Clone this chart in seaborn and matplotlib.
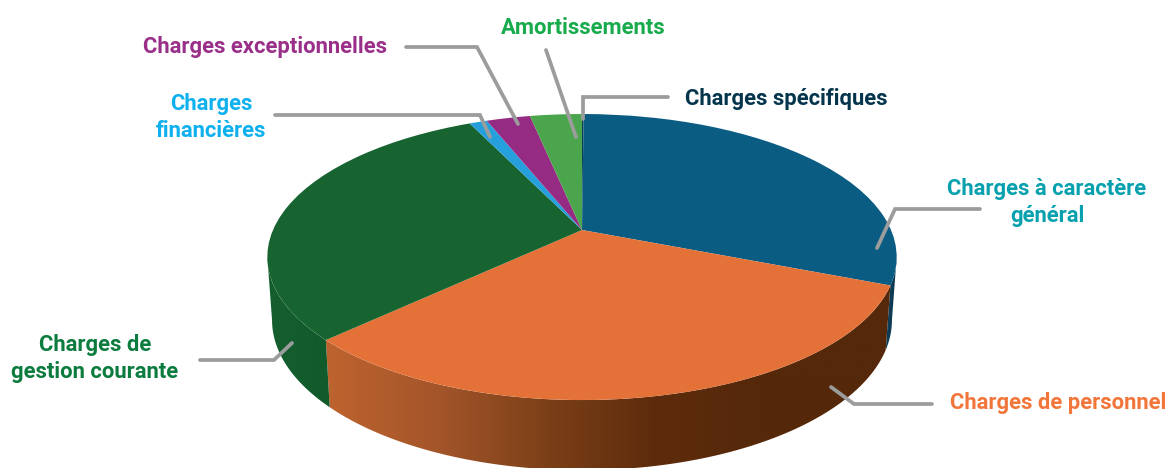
import numpy as np
import matplotlib
matplotlib.use("Agg")
import matplotlib.pyplot as plt
import seaborn as sns
from matplotlib.transforms import Transform
from matplotlib.patches import Polygon
from matplotlib.colors import LinearSegmentedColormap

# ---- data (clockwise from the top) ----
categories = ["Charges spécifiques", "Charges à caractère général", "Charges de personnel",
              "Charges de gestion courante", "Charges financières",
              "Charges exceptionnelles", "Amortissements"]
values = [0.1, 31.0, 31.7, 30.2, 1.1, 2.7, 3.2]
slice_colors = ["#0a3c55", "#0b5c82", "#e47238", "#186430", "#25a0dc", "#962b84", "#4ba54c"]
wall_stops = [["#0a3c55", "#0a3c55"], ["#0f3f58", "#0c3850"],
              ["#bd632f", "#a4552a", "#7c4018", "#5e2c0c", "#55280a"],
              ["#155e2e", "#115a2c"], ["#145c7e", "#145c7e"], ["#6a1f5e", "#6a1f5e"], ["#357a37", "#357a37"]]
labels = [
    ("Charges exceptionnelles", 265, 47.5, "#9a2f8a"),
    ("Amortissements", 583, 28.5, "#17ab4c"),
    ("Charges\nfinancières", 211, 117.5, "#0fb0ee"),
    ("Charges spécifiques", 786, 99.5, "#04354d"),
    ("Charges à caractère\ngénéral", 1047, 202.5, "#06a0ae"),
    ("Charges de personnel", 1058, 403.5, "#f2763a"),
    ("Charges de\ngestion courante", 95, 358.5, "#0b7c3e"),
]
leaders = [
    ([406, 477, 518], [47, 47, 124]),
    ([546, 576], [50, 137]),
    ([668, 583, 583], [97, 97, 119]),
    ([275, 480, 490], [115, 115, 137]),
    ([200, 274, 292], [360, 360, 343]),
    ([980, 895, 877], [209, 209, 248]),
    ([932, 854, 831], [404, 404, 387]),
]

# ---- projection of the unit pie onto the page ----
CX, APEX_Y = 582.0, 230.0
A, B, K = 137.9, 309.0, 0.189
ELL_Y = 257.0


def project(x, y):
    w = 1 + K * y
    return CX + B * x / w, APEX_Y - A * y / w


class Perspective(Transform):
    input_dims = output_dims = 2
    is_separable = False

    def transform_non_affine(self, v):
        v = np.asarray(v, dtype=float)
        px, py = project(v[:, 0], v[:, 1])
        return np.column_stack([px, py])


sns.set_theme(style="white")
plt.rcParams["font.family"] = ["Roboto", "DejaVu Sans"]
fig = plt.figure(figsize=(11.69, 4.68), dpi=100)
ax = fig.add_axes([0, 0, 1, 1])

palette = sns.color_palette(slice_colors)
wedges, _ = ax.pie(values, colors=palette, startangle=90, counterclock=False,
                   radius=1.0, wedgeprops=dict(linewidth=0, antialiased=True))
per = Perspective() + ax.transData
for w in wedges:
    w.set_transform(per)
    w.set_zorder(5)
ax.set_aspect("auto")
ax.set_xlim(0, 1169)
ax.set_ylim(468, 0)
ax.axis("off")

# ---- side wall, built from the same values; only the front-facing arc is drawn ----
edges = 90 - np.cumsum([0] + values) * 3.6
FRONT_HI = -np.degrees(np.arcsin(K))
FRONT_LO = -180 - FRONT_HI
GRAD_LO, GRAD_HI = 330.0, 760.0
for i, stops in enumerate(wall_stops):
    a_hi, a_lo = edges[i], edges[i + 1]
    a_hi = min(a_hi, FRONT_HI)
    a_lo = max(a_lo, FRONT_LO)
    if a_hi <= a_lo:
        continue
    t = np.radians(np.linspace(a_hi, a_lo, 200))
    tx, ty = project(np.cos(t), np.sin(t))
    bx = CX + (tx - CX) * 0.985
    by = 320 + (ty - ELL_Y) * 1.05
    poly = np.column_stack([np.r_[tx, bx[::-1]], np.r_[ty, by[::-1]]])
    patch = Polygon(poly, closed=True, facecolor="none", edgecolor="none", transform=ax.transData)
    ax.add_patch(patch)
    lo, hi = poly[:, 0].min(), poly[:, 0].max()
    cmap = LinearSegmentedColormap.from_list("w%d" % i, stops)
    xs = np.linspace(lo, hi, 512)
    if i == 2:
        grad = np.clip((xs - GRAD_LO) / (GRAD_HI - GRAD_LO), 0, 1)
    else:
        grad = (xs - lo) / (hi - lo)
    im = ax.imshow(grad.reshape(1, -1), cmap=cmap, vmin=0, vmax=1, aspect="auto", zorder=3,
                   extent=(lo, hi, poly[:, 1].max() + 1, poly[:, 1].min() - 1))
    im.set_clip_path(patch)
ax.set_xlim(0, 1169)
ax.set_ylim(468, 0)
ax.set_aspect("auto")

# ---- leader lines and labels ----
for xs, ys in leaders:
    ax.plot(xs, ys, color="#9b9d9d", lw=2.7, solid_capstyle="round", solid_joinstyle="miter", zorder=6)
for text, x, y, col in labels:
    ax.text(x, y, text, color=col, fontsize=15.8, fontweight="bold", ha="center", va="center",
            linespacing=1.35, zorder=7)

fig.savefig("out.png", dpi=100, facecolor="white")
